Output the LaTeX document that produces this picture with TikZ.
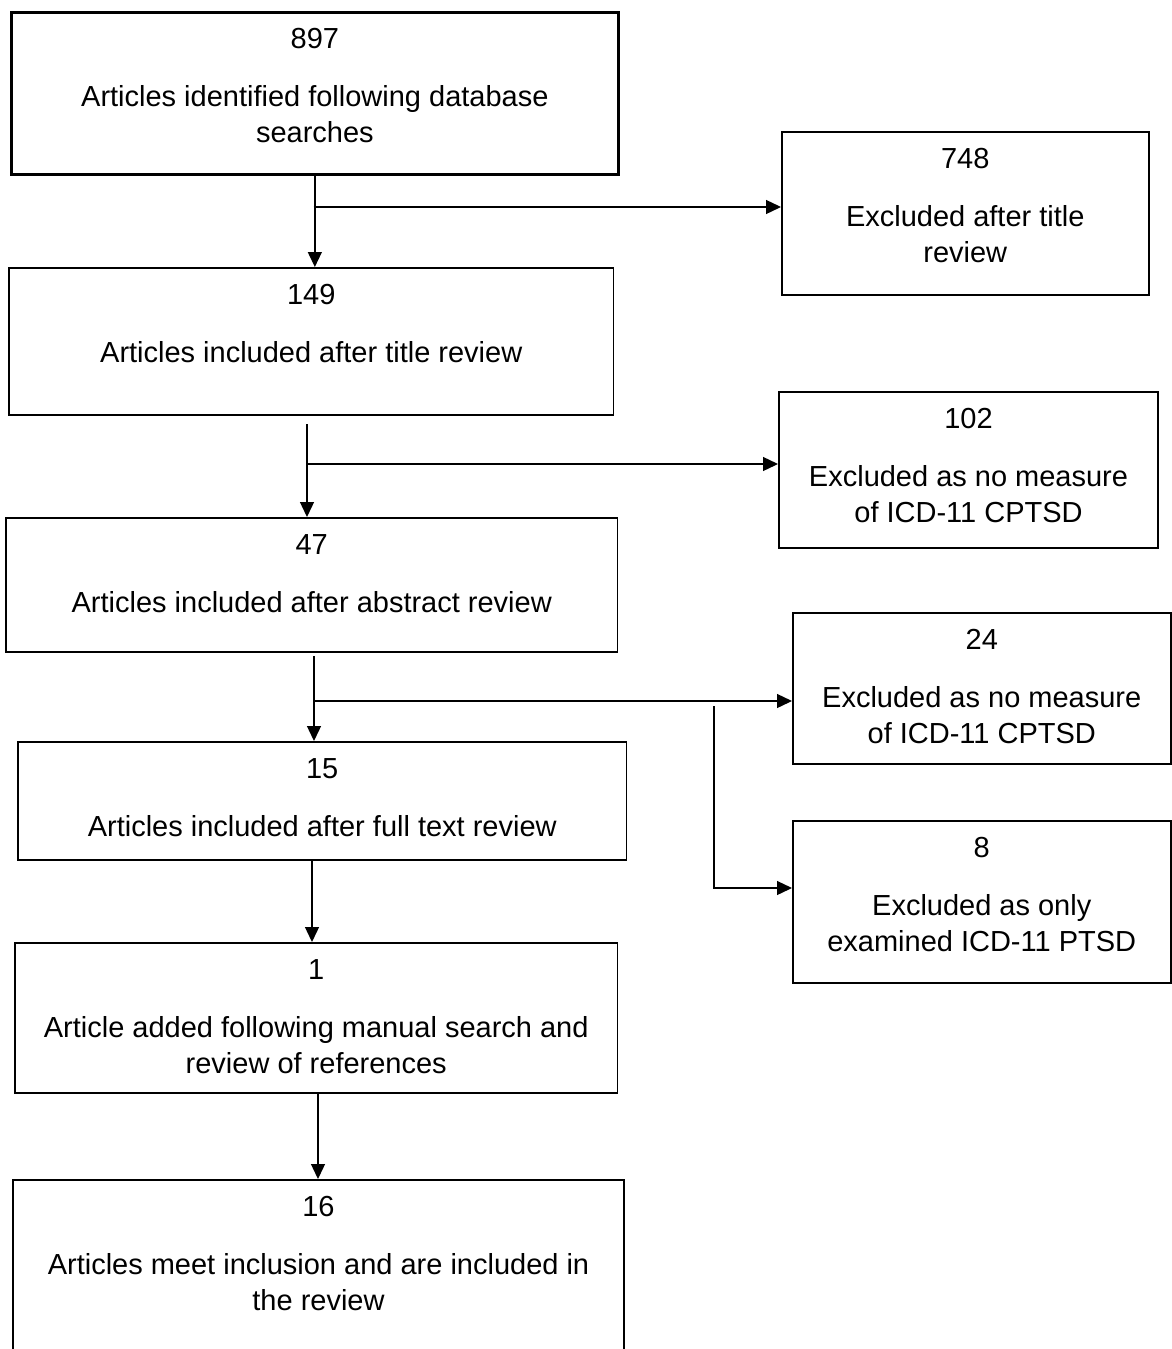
\documentclass[tikz,border=0pt]{standalone}
\usepackage{fontspec}
\setmainfont{Liberation Sans}
\usetikzlibrary{positioning,arrows.meta}

\begin{document}
\begin{tikzpicture}[
  x=0.02cm, y=-0.02cm,
  every node/.style={font=\fontsize{16.5}{20.5}\selectfont, align=center},
  box/.style={draw, line width=0.9pt, inner sep=0pt, anchor=north west},
  lbl/.style={inner sep=0pt, anchor=north},
  arr/.style={-{Triangle[length=0.3cm, width=0.28cm]}, line width=0.75pt}
]
\useasboundingbox (0,0) rectangle (1171,1349);

% main column
\node[box, line width=1.6pt, minimum width=12.14cm, minimum height=3.24cm] (b897) at (10,11) {};
\node[box, minimum width=12.10cm, minimum height=2.94cm] (b149) at (8,267) {};
\node[box, minimum width=12.24cm, minimum height=2.68cm] (b47) at (5,517) {};
\node[box, minimum width=12.18cm, minimum height=2.36cm] (b15) at (17,741) {};
\node[box, minimum width=12.06cm, minimum height=3.00cm] (b1) at (14,942) {};
\node[box, line width=1.2pt, minimum width=12.22cm, minimum height=3.72cm] (b16) at (12,1179) {};

% excluded column
\node[box, minimum width=7.34cm, minimum height=3.26cm] (b748) at (781,131) {};
\node[box, line width=1.2pt, minimum width=7.58cm, minimum height=3.12cm] (b102) at (778,391) {};
\node[box, minimum width=7.56cm, minimum height=3.02cm] (b24) at (792,612) {};
\node[box, minimum width=7.56cm, minimum height=3.24cm] (b8) at (792,820) {};

% texts
\node[lbl] (t897) at ([yshift=-9.8pt]b897.north) {897\\[12.5pt]Articles identified following database\\searches};
\node[lbl] (t149) at ([yshift=-9.8pt]b149.north) {149\\[12.5pt]Articles included after title review};
\node[lbl] (t47) at ([yshift=-9.8pt]b47.north) {47\\[12.5pt]Articles included after abstract review};
\node[lbl] (t15) at ([yshift=-9.8pt]b15.north) {15\\[12.5pt]Articles included after full text review};
\node[lbl] (t1) at ([yshift=-9.8pt]b1.north) {1\\[12.5pt]Article added following manual search and\\review of references};
\node[lbl] (t16) at ([yshift=-9.8pt]b16.north) {16\\[12.5pt]Articles meet inclusion and are included in\\the review};
\node[lbl] (t748) at ([yshift=-9.8pt]b748.north) {748\\[12.5pt]Excluded after title\\review};
\node[lbl] (t102) at ([yshift=-9.8pt]b102.north) {102\\[12.5pt]Excluded as no measure\\of ICD-11 CPTSD};
\node[lbl] (t24) at ([yshift=-9.8pt]b24.north) {24\\[12.5pt]Excluded as no measure\\of ICD-11 CPTSD};
\node[lbl] (t8) at ([yshift=-9.8pt]b8.north) {8\\[12.5pt]Excluded as only\\examined ICD-11 PTSD};

% connectors
\coordinate (j1) at (313.5,207);
\coordinate (s2) at (307,424);
\coordinate (j2) at (307,464);
\coordinate (s3) at (314,656);
\coordinate (j3) at (314,701);
\coordinate (s4) at (714,706);
\coordinate (k4) at (714,888);
\coordinate (s5) at (312,859);
\coordinate (s6) at (318,1092);

\draw[arr] (b897.south) -- (b897.south |- b149.north);
\draw[arr] (j1) -- (j1 -| b748.west);
\draw[arr] (s2) -- (s2 |- b47.north);
\draw[arr] (j2) -- (j2 -| b102.west);
\draw[arr] (s3) -- (s3 |- b15.north);
\draw[arr] (j3) -- (j3 -| b24.west);
\draw[arr] (s4) -- (k4) -- (k4 -| b8.west);
\draw[arr] (s5) -- (s5 |- b1.north);
\draw[arr] (s6) -- (s6 |- b16.north);
\end{tikzpicture}
\end{document}
